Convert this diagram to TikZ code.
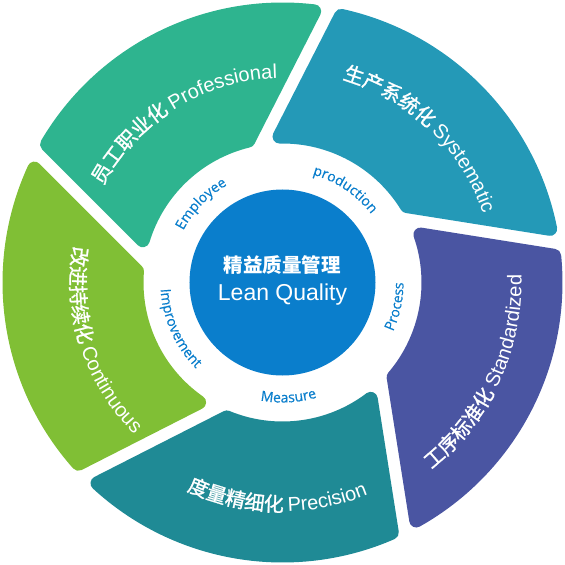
\documentclass[tikz,border=0pt]{standalone}
\usepackage{fontspec}
\setmainfont{Liberation Sans}
\newfontfamily\cjk{Noto Sans CJK SC}
\newfontfamily\cjkmid[FakeBold=1.2]{Noto Sans CJK SC}
\newfontfamily\opensans[FakeBold=0.5]{Open Sans}
\usepackage{tikz}
\usetikzlibrary{decorations.text}

\definecolor{syscol}{HTML}{2499B7}
\definecolor{procol}{HTML}{2EB48F}
\definecolor{concol}{HTML}{80BF35}
\definecolor{precol}{HTML}{1F8A95}
\definecolor{stacol}{HTML}{4A55A2}
\definecolor{hubblue}{HTML}{0A7ECC}

\newcommand\segzh{\cjkmid\fontsize{20}{24}\selectfont\color{white}}
\newcommand\segen{\rmfamily\fontsize{20}{24}\selectfont\color{white}}
\newcommand\ringfont{\opensans\fontsize{14}{16}\selectfont\color{hubblue}}

\begin{document}
\begin{tikzpicture}[
  x=1pt, y=1pt,
  seg/.style={line width=14pt, line join=round},
  hub/.style={circle, fill=hubblue, minimum size=186pt, inner sep=0pt},
  segtext/.style={decorate, decoration={text along path, text align=center, text={#1}}},
  ringtext/.style={decorate, decoration={text along path, text align=center, text={|\ringfont|#1}}}
]
  \useasboundingbox (-282.5,-282.5) rectangle (282.5,282.5);

  % wheel segments, cut by offset lines (pinwheel), thick border rounds the corners
  \def\Rout{273}\def\Rin{146}\def\dd{82}\def\hh{13}
  \foreach \m/\col in {0/syscol,1/procol,2/concol,3/precol,4/stacol}{
    \pgfmathsetmacro\fa{8+72*\m+acos(\dd/280)}
    \pgfmathsetmacro\fb{\fa+72}
    \pgfmathsetmacro\ao{\fa-acos((\dd+\hh)/\Rout)}
    \pgfmathsetmacro\bo{\fb-acos((\dd-\hh)/\Rout)}
    \pgfmathsetmacro\bi{\fb-acos((\dd-\hh)/\Rin)}
    \pgfmathsetmacro\ai{\fa-acos((\dd+\hh)/\Rin)}
    \filldraw[seg, fill=\col, draw=\col] (\ao:\Rout) arc[start angle=\ao, end angle=\bo, radius=\Rout]
      -- (\bi:\Rin) arc[start angle=\bi, end angle=\ai, radius=\Rin] -- cycle;
  }

  % hub
  \node[hub] (hub) at (0,0) {};
  \node[text=white, align=center, font=\fontsize{23}{28}\selectfont] (title) at (0,2)
    {{\cjk\bfseries\fontsize{19.5}{28}\selectfont 精益质量管理}\\Lean Quality};

  % ring labels
  \path[ringtext=Employee] (186:112) arc[start angle=186, end angle=86, radius=112];
  \path[ringtext=production] (106:112) arc[start angle=106, end angle=6, radius=112];
  \path[ringtext=Process] (-52:121) arc[start angle=-52, end angle=28, radius=121];
  \path[ringtext=Measure] (233:120) arc[start angle=233, end angle=313, radius=120];
  \path[ringtext=Improvement] (154:122) arc[start angle=154, end angle=254, radius=122];

  % segment labels
  \path[segtext={|\segzh|员工职业化 |\segen|Professional}] (191.6:204) arc[start angle=191.6, end angle=51.6, radius=204];
  \path[segtext={|\segzh|生产系统化 |\segen|Systematic}] (116.3:212) arc[start angle=116.3, end angle=-23.7, radius=212];
  \path[segtext={|\segzh|工序标准化 |\segen|Standardized}] (-94.8:239) arc[start angle=-94.8, end angle=45.2, radius=239];
  \path[segtext={|\segzh|度量精细化 |\segen|Precision}] (198.6:229) arc[start angle=198.6, end angle=338.6, radius=229];
  \path[segtext={|\segzh|改进持续化 |\segen|Continuous}] (127.9:212) arc[start angle=127.9, end angle=267.9, radius=212];
\end{tikzpicture}
\end{document}
